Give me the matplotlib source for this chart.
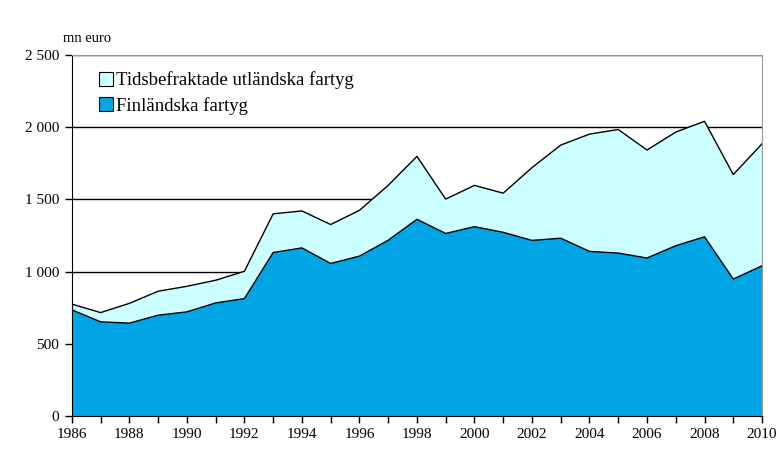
import numpy as np
import matplotlib.pyplot as plt
from matplotlib.patches import Patch
from matplotlib.ticker import FuncFormatter

plt.rcParams['font.family'] = 'Liberation Serif'

years = list(range(1986, 2011))
finnish = [735, 652, 643, 698, 721, 783, 813, 1132, 1164, 1056, 1107, 1217, 1362,
           1264, 1311, 1272, 1216, 1231, 1140, 1128, 1094, 1179, 1241, 948, 1040]
total = [775, 716, 780, 864, 898, 940, 1002, 1400, 1420, 1326, 1424, 1597, 1798,
         1502, 1597, 1543, 1720, 1876, 1952, 1984, 1842, 1966, 2041, 1672, 1885]
chartered = [t - f for t, f in zip(total, finnish)]

label_finnish = 'Finländska fartyg'
label_chartered = 'Tidsbefraktade utländska fartyg'

fig = plt.figure(figsize=(7.81, 4.5), dpi=100)
ax = fig.add_axes([0.092, 0.0756, 0.8837, 0.8022])

ax.stackplot(years, finnish, chartered, colors=['#00a5e6', '#ccffff'], zorder=2)
ax.plot(years, finnish, color='black', lw=1, zorder=3)
ax.plot(years, np.add(finnish, chartered), color='black', lw=1, zorder=3)

ax.set_xlim(1986, 2010)
ax.set_ylim(0, 2500)
ax.set_yticks(range(0, 2501, 500))
ax.set_xticks(years)
ax.set_xticklabels([str(y) if (y - 1986) % 2 == 0 else '' for y in years])
ax.yaxis.set_major_formatter(FuncFormatter(lambda v, p: f'{int(v):,}'.replace(',', ' ')))
ax.grid(axis='y', color='black', lw=1, zorder=1)
ax.set_axisbelow(True)

for s in ['top', 'right']:
    ax.spines[s].set_color('#999999')
for s in ['left', 'bottom']:
    ax.spines[s].set_color('black')
ax.tick_params(direction='out', length=5, width=1, labelsize=11, color='black')
ax.tick_params(axis='y', pad=4)

ax.text(-0.013, 1.035, 'mn euro', transform=ax.transAxes, fontsize=10.5, ha='left')

handles = [Patch(facecolor='#ccffff', edgecolor='black', lw=0.8, label=label_chartered),
           Patch(facecolor='#00a5e6', edgecolor='black', lw=0.8, label=label_finnish)]
leg = ax.legend(handles=handles, loc='upper left', bbox_to_anchor=(0.028, 0.975),
                frameon=False, fontsize=13.5, handlelength=0.75, handleheight=0.75,
                handletextpad=0.2, labelspacing=0.4, borderaxespad=0)

fig.savefig('out.png', dpi=100)
